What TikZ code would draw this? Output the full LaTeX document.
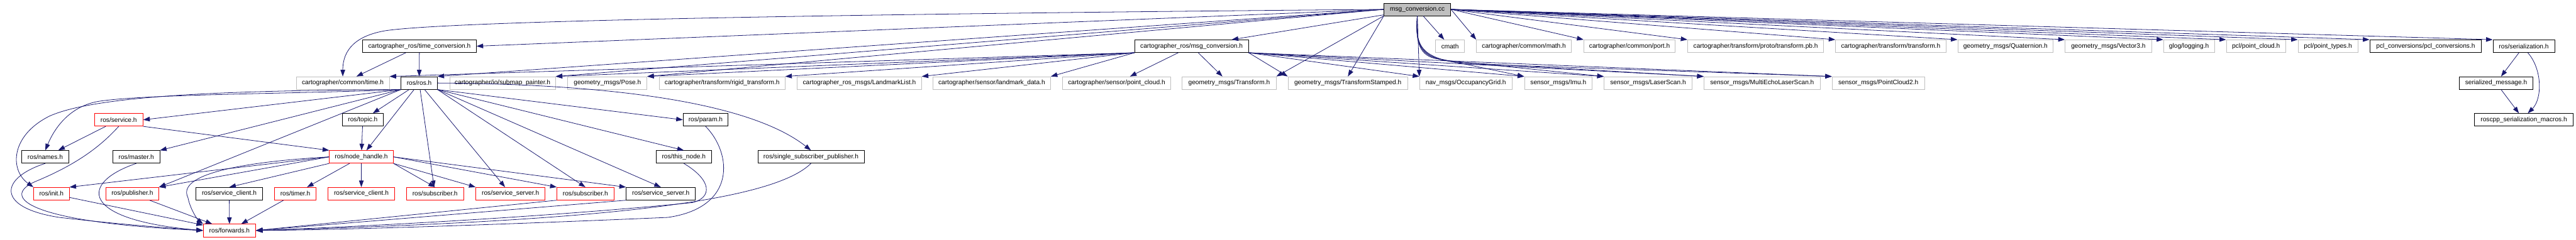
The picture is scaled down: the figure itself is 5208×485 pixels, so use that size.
\documentclass[tikz,border=0pt]{standalone}
\usepackage{fontspec}
\setmainfont{Liberation Sans}
\usepackage{xcolor}
\usetikzlibrary{arrows.meta,positioning,calc}

\definecolor{edgeblue}{RGB}{25,25,112}
\definecolor{boxgray}{RGB}{191,191,191}

\begin{document}
\begin{tikzpicture}[
        x=0.75pt, y=-0.75pt,
        filebox/.style={rectangle, draw=black, line width=0.75pt, minimum height=25.5*\px, inner sep=0pt, align=center, font=\fontsize{9.7}{11}\selectfont},
        redbox/.style={filebox, draw=red},
        sysbox/.style={filebox, draw=boxgray},
        rootbox/.style={filebox, fill=boxgray},
        dep/.style={draw=edgeblue, line width=0.75pt, -{Triangle[length=10pt, width=7pt]}}
    ]

    \def\px{0.75pt} % one pixel of the graph

    \useasboundingbox (0,0) rectangle (5208,485);

    % Row 0
    \node[rootbox, minimum width=135*\px] (cc) at (2865.5,19) {msg\_conversion.cc};

    % Row 1
    \node[filebox, minimum width=230*\px] (timeconv) at (848,93.5) {cartographer\_ros/time\_conversion.h};
    \node[filebox, minimum width=230*\px] (msgconv) at (2409,93.5) {cartographer\_ros/msg\_conversion.h};
    \node[sysbox, minimum width=59*\px] (cmath) at (2931.5,93.5) {cmath};
    \node[sysbox, minimum width=192*\px] (cmathh) at (3081,93.5) {cartographer/common/math.h};
    \node[sysbox, minimum width=185*\px] (port) at (3294.5,93.5) {cartographer/common/port.h};
    \node[sysbox, minimum width=275*\px] (tfproto) at (3549.5,93.5) {cartographer/transform/proto/transform.pb.h};
    \node[sysbox, minimum width=223*\px] (tf) at (3822.5,93.5) {cartographer/transform/transform.h};
    \node[sysbox, minimum width=193*\px] (quat) at (4054.5,93.5) {geometry\_msgs/Quaternion.h};
    \node[sysbox, minimum width=175*\px] (vec3) at (4262.5,93.5) {geometry\_msgs/Vector3.h};
    \node[sysbox, minimum width=103*\px] (glog) at (4425.5,93.5) {glog/logging.h};
    \node[sysbox, minimum width=120*\px] (pclcloud) at (4561,93.5) {pcl/point\_cloud.h};
    \node[sysbox, minimum width=121*\px] (pcltypes) at (4706.5,93.5) {pcl/point\_types.h};
    \node[filebox, minimum width=226*\px] (pclconv) at (4904,93.5) {pcl\_conversions/pcl\_conversions.h};
    \node[filebox, minimum width=125*\px] (serial) at (5102.5,93.5) {ros/serialization.h};

    % Row 2
    \node[sysbox, minimum width=188*\px] (ctime) at (693,168) {cartographer/common/time.h};
    \node[filebox, minimum width=73*\px] (ros) at (847.5,168) {ros/ros.h};
    \node[sysbox, minimum width=214*\px] (painter) at (1016,168) {cartographer/io/submap\_painter.h};
    \node[sysbox, minimum width=160*\px] (pose) at (1228,168) {geometry\_msgs/Pose.h};
    \node[sysbox, minimum width=254*\px] (rigid) at (1460,168) {cartographer/transform/rigid\_transform.h};
    \node[sysbox, minimum width=251*\px] (lmlist) at (1737.5,168) {cartographer\_ros\_msgs/LandmarkList.h};
    \node[sysbox, minimum width=238*\px] (lmdata) at (2005,168) {cartographer/sensor/landmark\_data.h};
    \node[sysbox, minimum width=219*\px] (scloud) at (2257.5,168) {cartographer/sensor/point\_cloud.h};
    \node[sysbox, minimum width=190*\px] (tfmsg) at (2485,168) {geometry\_msgs/Transform.h};
    \node[sysbox, minimum width=242*\px] (tfstamped) at (2725,168) {geometry\_msgs/TransformStamped.h};
    \node[sysbox, minimum width=187*\px] (grid) at (2963.5,168) {nav\_msgs/OccupancyGrid.h};
    \node[sysbox, minimum width=137*\px] (imu) at (3150.5,168) {sensor\_msgs/Imu.h};
    \node[sysbox, minimum width=178*\px] (laser) at (3332,168) {sensor\_msgs/LaserScan.h};
    \node[sysbox, minimum width=235*\px] (echo) at (3562.5,168) {sensor\_msgs/MultiEchoLaserScan.h};
    \node[sysbox, minimum width=187*\px] (pc2) at (3797.5,168) {sensor\_msgs/PointCloud2.h};
    \node[filebox, minimum width=149*\px] (sermsg) at (5046.5,168) {serialized\_message.h};

    % Row 3
    \node[redbox, minimum width=98*\px] (service) at (240,242.5) {ros/service.h};
    \node[filebox, minimum width=83*\px] (topic) at (733.5,242.5) {ros/topic.h};
    \node[filebox, minimum width=91*\px] (param) at (1426.5,242.5) {ros/param.h};
    \node[filebox, minimum width=199*\px] (macros) at (5102.5,242.5) {roscpp\_serialization\_macros.h};

    % Row 4
    \node[filebox, minimum width=95*\px] (names) at (91.5,317.5) {ros/names.h};
    \node[filebox, minimum width=95*\px] (master) at (275.5,317.5) {ros/master.h};
    \node[redbox, minimum width=129*\px] (nh) at (730.5,317.5) {ros/node\_handle.h};
    \node[filebox, minimum width=111*\px] (thisnode) at (1382.5,317.5) {ros/this\_node.h};
    \node[filebox, minimum width=215*\px] (ssp) at (1639.5,317.5) {ros/single\_subscriber\_publisher.h};

    % Row 5
    \node[redbox, minimum width=72*\px] (init) at (104,392) {ros/init.h};
    \node[redbox, minimum width=107*\px] (pub) at (267.5,392) {ros/publisher.h};
    \node[filebox, minimum width=135*\px] (sclient) at (463.5,392) {ros/service\_client.h};
    \node[redbox, minimum width=84*\px] (timer) at (597,392) {ros/timer.h};
    \node[redbox, minimum width=135*\px] (sclientr) at (730.5,392) {ros/service\_client.h};
    \node[redbox, minimum width=115*\px] (suba) at (879.5,392) {ros/subscriber.h};
    \node[redbox, minimum width=140*\px] (sservera) at (1032,392) {ros/service\_server.h};
    \node[redbox, minimum width=115*\px] (subb) at (1183.5,392) {ros/subscriber.h};
    \node[filebox, minimum width=140*\px] (sserverb) at (1336,392) {ros/service\_server.h};

    % Row 6
    \node[redbox, minimum width=106*\px] (fwd) at (464,466.5) {ros/forwards.h};

    % msg_conversion.cc
    \foreach \target in {cmathh, port, tfproto, tf, quat, vec3, glog, pclcloud, pcltypes, pclconv, serial}
        \draw[dep] (cc.east) -- (\target.north west);
    \draw[dep] (cc) -- (cmath);
    \draw[dep] (cc) -- (msgconv);
    \draw[dep] (cc.west) -- (timeconv.east);
    \draw[dep] (cc.west) .. controls (1500,30) and (900,45) .. (780,62) .. controls (720,72) and (693,100) .. (ctime.north);
    \foreach \target in {ros, painter, pose}
        \draw[dep] (cc.west) -- (\target.north east);
    \draw[dep] (cc.south west) -- (tfmsg.north east);
    \draw[dep] (cc.south west) -- (tfstamped.north);
    \draw[dep] (cc.south) -- (grid.north west);
    \foreach \target/\k in {imu/0, laser/1, echo/2, pc2/3}
        \draw[dep] (cc.south) .. controls (2860,95) and (2875,118) .. (2915+15*\k,120+3*\k) -- (\target.north west);

    % msg_conversion.h
    \foreach \target in {ctime, painter, pose, rigid, lmlist, lmdata}
        \draw[dep] (msgconv.south west) -- (\target.north east);
    \draw[dep] (msgconv) -- (scloud);
    \draw[dep] (msgconv) -- (tfmsg);
    \foreach \target in {tfstamped, grid, imu, laser, echo, pc2}
        \draw[dep] (msgconv.south east) -- (\target.north west);

    % time_conversion.h
    \draw[dep] (timeconv) -- (ctime);
    \draw[dep] (timeconv) -- (ros);

    % ros.h
    \draw[dep] (ros) -- (topic);
    \draw[dep] (ros) -- (nh);
    \draw[dep] (ros) -- (suba);
    \draw[dep] (ros) -- (sservera);
    \draw[dep] (ros.south east) -- (subb.north);
    \draw[dep] (ros.south east) -- (sserverb.north);
    \draw[dep] (ros.south east) -- (param.west);
    \draw[dep] (ros.south east) -- (thisnode.north);
    \draw[dep] (ros.east) .. controls (1250,170) and (1520,210) .. (ssp.north);
    \draw[dep] (ros.south west) .. controls (600,190) and (300,190) .. (200,205) .. controls (140,215) and (110,260) .. (names.north);
    \draw[dep] (ros.south west) .. controls (500,183) and (200,190) .. (100,235) .. controls (20,275) and (20,345) .. (init.north west);
    \draw[dep] (ros.south west) -- (service.east);
    \draw[dep] (ros.south west) -- (master.north east);
    \draw[dep] (ros.south west) -- (pub.north east);

    % topic.h, service.h
    \draw[dep] (topic) -- (nh);
    \draw[dep] (service) -- (names);
    \draw[dep] (service.south east) -- (nh.north west);
    \draw[dep] (service.south) .. controls (200,300) and (150,335) .. (70,368) .. controls (0,400) and (60,450) .. (fwd.west);

    % node_handle.h
    \draw[dep] (nh.west) .. controls (450,330) and (360,360) .. (380,400) .. controls (385,425) and (400,445) .. (fwd.north west);
    \draw[dep] (nh.west) -- (init.north east);
    \draw[dep] (nh.west) -- (pub.north east);
    \draw[dep] (nh.south west) -- (sclient.north);
    \draw[dep] (nh) -- (timer);
    \draw[dep] (nh) -- (sclientr);
    \draw[dep] (nh.south east) -- (suba.north);
    \draw[dep] (nh.south east) -- (sservera.north west);
    \draw[dep] (nh.east) -- (subb.north west);
    \draw[dep] (nh.east) -- (sserverb.north west);

    % down to forwards.h
    \draw[dep] (names.south) .. controls (0,360) and (-10,420) .. (120,440) .. controls (250,455) and (350,462) .. (fwd.west);
    \draw[dep] (master.south) .. controls (160,370) and (160,445) .. (fwd.west);
    \draw[dep] (init) -- (fwd);
    \draw[dep] (pub) -- (fwd);
    \draw[dep] (sclient) -- (fwd);
    \draw[dep] (timer) -- (fwd);
    \draw[dep] (subb.south west) -- (fwd.east);
    \draw[dep] (sserverb.south west) -- (fwd.east);
    \draw[dep] (thisnode.south) .. controls (1440,365) and (1440,400) .. (1400,410) .. controls (1100,440) and (700,460) .. (fwd.east);
    \draw[dep] (param.south) .. controls (1480,310) and (1490,420) .. (1350,440) .. controls (1000,455) and (700,465) .. (fwd.east);
    \draw[dep] (ssp.south) .. controls (1550,420) and (1100,450) .. (fwd.east);

    % serialization.h
    \draw[dep] (serial) -- (sermsg);
    \draw[dep] ([xshift=6pt]serial.south) .. controls (5140,140) and (5140,200) .. ([xshift=6pt]macros.north);
    \draw[dep] (sermsg) -- (macros);

\end{tikzpicture}
\end{document}
